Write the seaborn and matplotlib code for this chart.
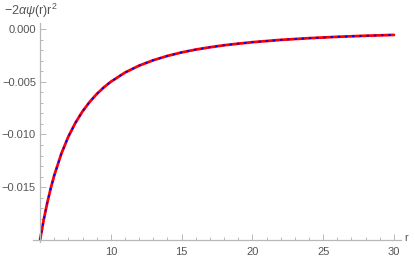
'''
Recreate the -2*alpha*psi(r)*r^2 curve plot (Mathematica style).
'''

import pandas as pd
import matplotlib
matplotlib.use("Agg")
import matplotlib.pyplot as plt
import seaborn as sns
from matplotlib.ticker import MultipleLocator, FixedLocator


# values
r_values = [5.0, 5.25, 5.5, 5.75, 6.0, 6.5, 7.0, 7.5, 8.0, 8.5, 9.0, 9.5, 10.0,
            11.0, 12.0, 13.0, 14.0, 15.0, 16.0, 17.0, 18.0, 19.0, 20.0,
            22.0, 24.0, 26.0, 28.0, 30.0]
y_values = [-0.02, -0.01814, -0.01653, -0.01512, -0.01389, -0.01183, -0.0102,
            -0.00889, -0.00781, -0.00692, -0.00617, -0.00554, -0.005,
            -0.00413, -0.00347, -0.00296, -0.00255, -0.00222, -0.00195,
            -0.00173, -0.00154, -0.00139, -0.00125,
            -0.00103, -0.00087, -0.00074, -0.00064, -0.00056]
x_ticks = [10, 15, 20, 25, 30]
y_ticks = [0.0, -0.005, -0.010, -0.015]
y_tick_labels = ["0.000", "\u22120.005", "\u22120.010", "\u22120.015"]

curve = pd.DataFrame({"r": r_values, "y": y_values})

sns.set_style("white")
plt.rcParams["font.family"] = ["Liberation Sans", "DejaVu Sans"]
plt.rcParams["mathtext.fontset"] = "custom"
plt.rcParams["mathtext.rm"] = "Liberation Sans"
plt.rcParams["mathtext.it"] = "Liberation Sans:italic"

fig = plt.figure(figsize=(4.15, 2.59), dpi=100)
ax = fig.add_axes([33 / 415, 17 / 259, 368 / 415, 219 / 259])

#red solid curve with blue dashed overlay
sns.lineplot(x="r", y="y", data=curve, ax=ax, color="#ff0000", linewidth=2.0,
             sort=False, estimator=None)
sns.lineplot(x="r", y="y", data=curve, ax=ax, color="#0000ff", linewidth=1.3,
             linestyle=(0, (1.4, 2.6)), sort=False, estimator=None)

ax.set_xlim(4.5, 30.5)
ax.set_ylim(-0.0202, 0.00057)
ax.set_xlabel("")
ax.set_ylabel("")

axis_col = "#b8b8b8"
for side in ["top", "right"]:
    ax.spines[side].set_visible(False)
ax.spines["left"].set_position(("data", 5))
ax.spines["bottom"].set_position(("data", -0.02))
for side in ["left", "bottom"]:
    ax.spines[side].set_color(axis_col)
    ax.spines[side].set_linewidth(0.9)

ax.xaxis.set_major_locator(FixedLocator(x_ticks))
ax.xaxis.set_minor_locator(MultipleLocator(1))
ax.set_yticks(y_ticks)
ax.set_yticklabels(y_tick_labels)
ax.yaxis.set_minor_locator(MultipleLocator(0.001))
ax.tick_params(which="both", bottom=True, left=True, direction="in",
               colors=axis_col, labelcolor="#555555", labelsize=8, width=0.7)
ax.tick_params(which="major", length=4, pad=3)
ax.tick_params(axis="x", which="major", pad=5)
ax.tick_params(which="minor", length=2.2)

fig.text(4 / 415, 1 - 11 / 259, r"$-2\alpha\psi(\mathrm{r})\mathrm{r}^2$",
         fontsize=9, color="#555555", va="center", ha="left")
fig.text(404 / 415, 1 - 238 / 259, "r", fontsize=8, color="#555555",
         va="center", ha="left")

fig.savefig("out.png", dpi=100)
